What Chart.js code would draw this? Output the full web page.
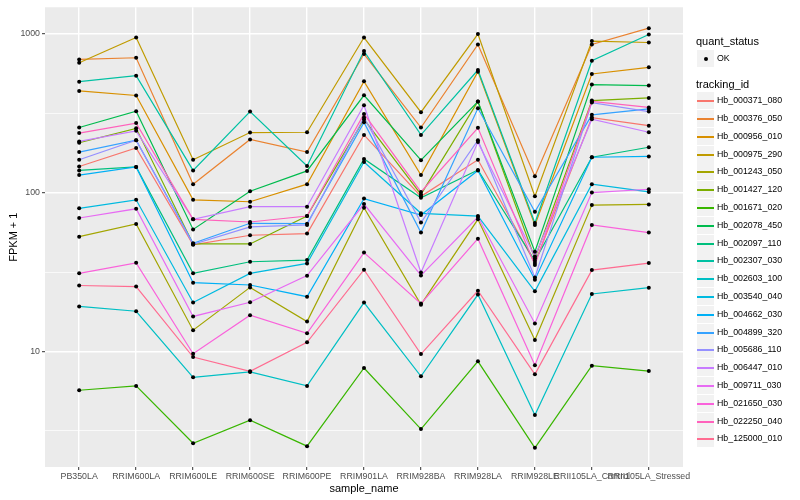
<!DOCTYPE html>
<html>
<head>
<meta charset="utf-8">
<script src="https://cdn.jsdelivr.net/npm/chart.js@4"></script>
<style>
  html, body { margin: 0; padding: 0; background: #ffffff; }
  #wrap { position: relative; width: 800px; height: 500px; font-family: "Liberation Sans", Arial, sans-serif; }
  canvas { position: absolute; left: 0; top: 0; }
  .lg-title { position: absolute; left: 696px; font-size: 11px; color: #000; line-height: 12px; }
  .lg-row { position: absolute; left: 697px; height: 17px; width: 100px; }
  .lg-key { position: absolute; left: 0; top: 0; width: 17px; height: 17px; background: #F2F2F2; }
  .lg-line { position: absolute; left: 0; top: 8px; width: 17px; height: 0; border-top: 2px solid; }
  .lg-dot { position: absolute; left: 6.5px; top: 6.5px; width: 4px; height: 4px; border-radius: 50%; background: #000; }
  .lg-text { position: absolute; left: 20px; top: 2px; font-size: 8.8px; color: #000; line-height: 12px; white-space: nowrap; }
</style>
</head>
<body>
<div id="wrap">
  <canvas id="c" width="800" height="500"></canvas>
  <div id="legend"></div>
</div>
<script>
// ---- data ----
const categories = ['PB350LA','RRIM600LA','RRIM600LE','RRIM600SE','RRIM600PE','RRIM901LA','RRIM928BA','RRIM928LA','RRIM928LE','RRII105LA_Control','RRII105LA_Stressed'];
const yTickLabels = [10, 100, 1000];
const yMinorTicks = [3.162, 31.62, 316.2];
const qualityLevels = ['OK'];

const trackingIds = ['Hb_000371_080','Hb_000376_050','Hb_000956_010','Hb_000975_290','Hb_001243_050','Hb_001427_120','Hb_001671_020','Hb_002078_450','Hb_002097_110','Hb_002307_030','Hb_002603_100','Hb_003540_040','Hb_004662_030','Hb_004899_320','Hb_005686_110','Hb_006447_010','Hb_009711_030','Hb_021650_030','Hb_022250_040','Hb_125000_010'];

const Hb_000371_080 = [146, 191, 46.9, 53.9, 55.2, 231, 94.7, 161, 36.0, 297, 264];
const Hb_000376_050 = [690, 707, 113, 216, 180, 746, 257, 857, 127, 857, 1086];
const Hb_000956_010 = [437, 409, 90.1, 87.6, 113, 502, 129, 578, 62.6, 559, 615];
const Hb_000975_290 = [658, 948, 161, 239, 240, 948, 321, 996, 94.7, 900, 882];
const Hb_001243_050 = [52.8, 63.5, 13.6, 25.3, 15.4, 80.3, 19.7, 67.9, 11.8, 83.5, 84.3];
const Hb_001427_120 = [206, 254, 47.5, 47.5, 71.2, 289, 97.4, 375, 38.5, 380, 395];
const Hb_001671_020 = [5.69, 6.06, 2.64, 3.69, 2.53, 7.86, 3.24, 8.66, 2.47, 8.13, 7.52];
const Hb_002078_450 = [257, 326, 58.6, 102, 137, 410, 160, 375, 42.4, 479, 472];
const Hb_002097_110 = [138, 145, 31.0, 36.7, 37.6, 163, 92.8, 139, 37.2, 167, 193];
const Hb_002307_030 = [500, 545, 138, 324, 147, 779, 231, 592, 64.4, 677, 990];
const Hb_002603_100 = [19.2, 17.9, 6.87, 7.42, 6.06, 20.3, 6.97, 22.8, 3.97, 23.0, 25.2];
const Hb_003540_040 = [79.6, 90.1, 20.3, 31.0, 35.8, 156, 74.1, 71.2, 23.9, 113, 101];
const Hb_004662_030 = [129, 145, 27.1, 26.2, 22.1, 91.7, 72.3, 138, 28.3, 167, 169];
const Hb_004899_320 = [180, 214, 48.0, 64.1, 63.7, 277, 56.0, 340, 75.8, 309, 337];
const Hb_005686_110 = [161, 214, 47.3, 60.8, 62.6, 297, 64.8, 214, 29.2, 369, 324];
const Hb_006447_010 = [210, 245, 67.9, 81.5, 81.5, 355, 31.4, 208, 39.6, 290, 240];
const Hb_009711_030 = [69.2, 79.1, 16.6, 20.4, 30.0, 84.7, 30.1, 70.2, 15.0, 100, 105];
const Hb_021650_030 = [31.0, 36.1, 9.67, 16.9, 13.0, 41.9, 20.0, 51.3, 8.17, 62.6, 56.0];
const Hb_022250_040 = [237, 274, 67.9, 65.3, 71.2, 313, 101, 256, 35.0, 375, 344];
const Hb_125000_010 = [26.0, 25.6, 9.21, 7.49, 11.4, 32.7, 9.62, 24.1, 7.17, 32.5, 36.0];

const seriesValues = [Hb_000371_080, Hb_000376_050, Hb_000956_010, Hb_000975_290, Hb_001243_050, Hb_001427_120, Hb_001671_020, Hb_002078_450, Hb_002097_110, Hb_002307_030, Hb_002603_100, Hb_003540_040, Hb_004662_030, Hb_004899_320, Hb_005686_110, Hb_006447_010, Hb_009711_030, Hb_021650_030, Hb_022250_040, Hb_125000_010];

// ---- styles ----
const seriesColors = ['#F8766D','#EA8331','#D89000','#C09B00','#A3A500','#7CAE00','#39B600','#00BB4E','#00BF7D','#00C1A3','#00BFC4','#00BAE0','#00B0F6','#35A2FF','#9590FF','#C77CFF','#E76BF3','#FA62DB','#FF62BC','#FF6C91'];

const datasets = seriesValues.map((vals, i) => ({
  type: 'line',
  label: trackingIds[i],
  data: vals.map((v, j) => ({ x: j, y: v })),
  borderColor: seriesColors[i],
  backgroundColor: seriesColors[i],
  borderWidth: 1.2,
  pointRadius: 0,
  tension: 0,
  fill: false,
  order: 100 - i
}));
const allPoints = [];
seriesValues.forEach(vals => vals.forEach((v, j) => allPoints.push({ x: j, y: v })));
datasets.push({
  type: 'scatter',
  label: qualityLevels[0],
  data: allPoints,
  pointRadius: 2,
  pointBackgroundColor: '#000',
  pointBorderWidth: 0,
  showLine: false,
  order: 0
});

const panelBg = {
  id: 'panelBg',
  beforeDraw(chart) {
    const a = chart.chartArea, ctx = chart.ctx;
    ctx.save();
    ctx.fillStyle = '#EBEBEB';
    ctx.fillRect(a.left, a.top, a.right - a.left, a.bottom - a.top);
    ctx.restore();
  }
};

const isMajor = v => yTickLabels.some(t => Math.abs(t - v) / t < 1e-6);

new Chart(document.getElementById('c'), {
  data: { datasets },
  options: {
    responsive: false,
    animation: false,
    devicePixelRatio: 1,
    layout: { padding: { top: 5, right: 117, left: 0, bottom: 0 } },
    plugins: { legend: { display: false }, tooltip: { enabled: false } },
    scales: {
      x: {
        type: 'linear',
        min: -0.6, max: 10.6,
        afterBuildTicks: s => { s.ticks = categories.map((c, i) => ({ value: i })); },
        afterFit: s => { s.height = 33; },
        ticks: {
          autoSkip: false, maxRotation: 0, minRotation: 0, padding: 1,
          color: '#4D4D4D', font: { family: 'Liberation Sans', size: 8.8 },
          callback: v => categories[v]
        },
        grid: { color: '#FFFFFF', lineWidth: 1.4, tickColor: '#333333', tickLength: 3, tickWidth: 1 },
        border: { display: false },
        title: { display: true, text: 'sample_name', color: '#000', font: { family: 'Liberation Sans', size: 11 }, padding: { top: 0, bottom: 4 } }
      },
      y: {
        type: 'logarithmic',
        min: 1.87, max: 1470,
        afterBuildTicks: s => { s.ticks = yMinorTicks.concat(yTickLabels).sort((a, b) => a - b).map(v => ({ value: v })); },
        afterFit: s => { s.width = 45; },
        ticks: {
          autoSkip: false, padding: 2,
          color: '#4D4D4D', font: { family: 'Liberation Sans', size: 8.8 },
          callback: v => isMajor(v) ? String(v) : ''
        },
        grid: {
          color: '#FFFFFF',
          lineWidth: c => (c.tick && isMajor(c.tick.value)) ? 1.4 : 0.7,
          tickColor: c => (c.tick && isMajor(c.tick.value)) ? '#333333' : 'rgba(0,0,0,0)',
          tickLength: 3, tickWidth: 1
        },
        border: { display: false },
        title: { display: true, text: 'FPKM + 1', color: '#000', font: { family: 'Liberation Sans', size: 11 }, padding: { top: 7, bottom: 0 } }
      }
    }
  },
  plugins: [panelBg]
});

// ---- legend (HTML text) ----
const lg = document.getElementById('legend');
function add(html) { lg.insertAdjacentHTML('beforeend', html); }
add('<div class="lg-title" style="top:35px">quant_status</div>');
add('<div class="lg-row" style="top:50px"><div class="lg-key"><div class="lg-dot"></div></div><div class="lg-text">' + qualityLevels[0] + '</div></div>');
add('<div class="lg-title" style="top:78px">tracking_id</div>');
trackingIds.forEach((id, i) => {
  const top = Math.round(92.2 + i * 17.8);
  add('<div class="lg-row" style="top:' + top + 'px"><div class="lg-key"><div class="lg-line" style="border-color:' + seriesColors[i] + '"></div></div><div class="lg-text">' + id + '</div></div>');
});
</script>
</body>
</html>
